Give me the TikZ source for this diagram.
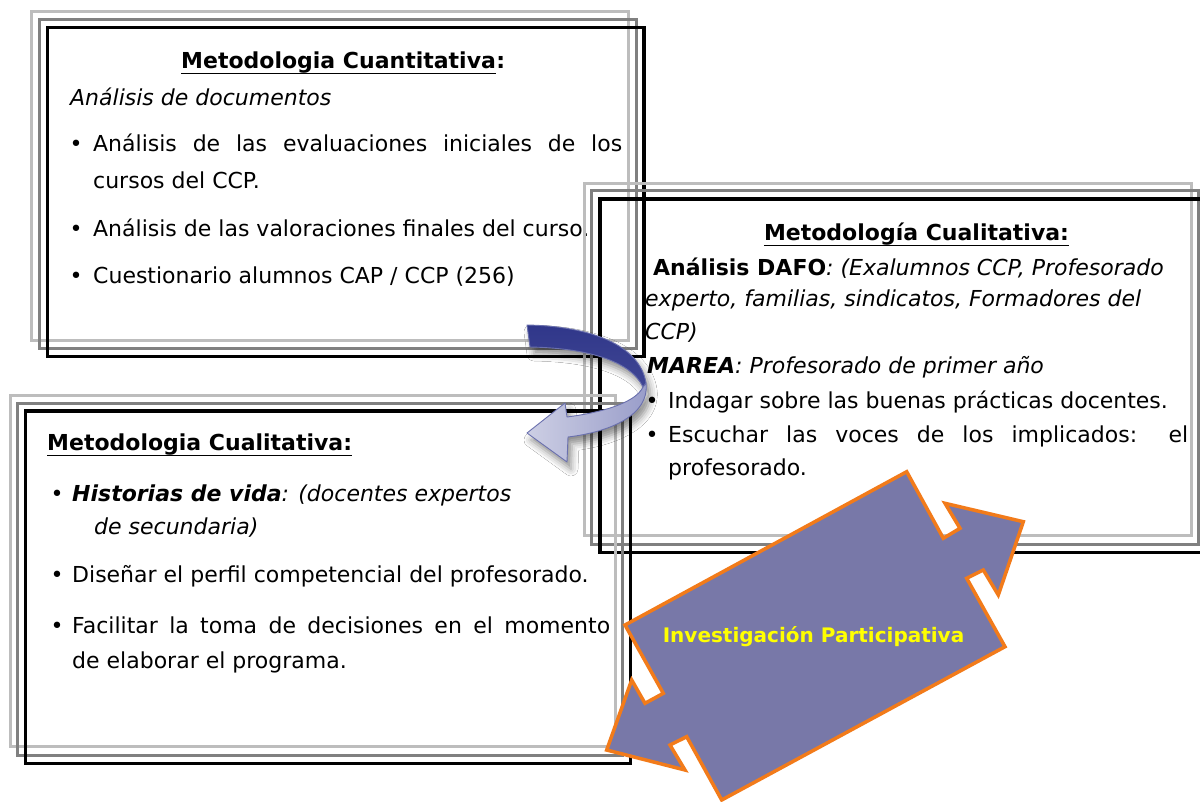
\documentclass[tikz,border=0pt]{standalone}
\usepackage{fontspec}
\setmainfont{DejaVu Sans}
\usetikzlibrary{shadows.blur}
\definecolor{lightgrayline}{HTML}{BDBDBD}
\definecolor{midgrayline}{HTML}{808080}
\definecolor{arrnavy}{HTML}{30378A}
\definecolor{arrlav}{HTML}{CDCFE4}
\definecolor{arrmid}{HTML}{989CC9}
\definecolor{arrborder}{HTML}{6A70AE}
\definecolor{bigfill}{HTML}{7878A8}
\definecolor{bigorange}{HTML}{F27B1A}
\definecolor{txtyellow}{HTML}{FFFF00}
\tikzset{
  lightframe/.style={draw=lightgrayline, line width=3pt},
  midframe/.style={draw=midgrayline, line width=3pt},
  blackframe/.style={draw=black, line width=3.2pt},
  txt/.style={anchor=base west, inner sep=0pt, font=\fontsize{22}{26}\selectfont},
  ctxt/.style={anchor=base, inner sep=0pt, font=\fontsize{22}{26}\selectfont},
  bul/.style={anchor=base, inner sep=0pt, font=\fontsize{22}{26}\selectfont},
  uline/.style={draw=black, line width=1.8pt},
  ribbon/.style={draw=arrborder, line width=0.9pt, line join=round},
  bigarrow/.style={fill=bigfill, draw=bigorange, line width=3.5pt, line join=miter},
}
\begin{document}
\begin{tikzpicture}[x=1pt,y=-1pt]
\useasboundingbox (0,0) rectangle (1200,801);
\fill[white] (0,0) rectangle (1200,801);

% ---------- Box 1: Metodologia Cuantitativa ----------
\draw[lightframe] (31.5,11.5) rectangle (628.5,340.5);
\draw[midframe] (39,19) rectangle (636,348.5);
\draw[blackframe] (47.5,27.5) rectangle (644,356.5);

\node[txt] (t1) at (181,68) {\textbf{Metodologia Cuantitativa}};
\node[txt] (t1c) at (t1.base east) {\textbf{:}};
\draw[uline] ([yshift=-5.5pt]t1.base west) -- ([yshift=-5.5pt]t1.base east);
\node[txt] (a1) at (70,105) {\textit{Análisis de documentos}};
\node[bul] (b11) at (76,151) {\textbullet};
\node[txt] (l11) at (93,151) {\makebox[529pt][s]{Análisis de las evaluaciones iniciales de los}};
\node[txt] (l12) at (93,188) {cursos del CCP.};
\node[bul] (b12) at (76,236) {\textbullet};
\node[txt] (l13) at (93,236) {Análisis de las valoraciones finales del curso.};
\node[bul] (b13) at (76,283) {\textbullet};
\node[txt] (l14) at (93,283) {Cuestionario alumnos CAP / CCP (256)};

% ---------- Box 2: Metodología Cualitativa ----------
\draw[lightframe] (584.5,183.5) rectangle (1191.5,535.5);
\draw[midframe] (591.5,190.5) rectangle (1198,544);
\draw[blackframe] (600,199) rectangle (1206,552.5);

\node[ctxt] (t2) at (916.5,240) {\textbf{Metodología Cualitativa:}};
\draw[uline] ([yshift=-5.5pt]t2.base west) -- ([yshift=-5.5pt]t2.base east);
\node[txt] (l21) at (653,275) {\textbf{Análisis DAFO}\textit{: (Exalumnos CCP, Profesorado}};
\node[txt] (l22) at (645,306) {\textit{experto, familias, sindicatos, Formadores del}};
\node[txt] (l23) at (645,339) {\textit{CCP)}};
\node[txt] (l24) at (647,373) {\textbf{\textit{MAREA}}\textit{: Profesorado de primer año}};
\node[bul] (b21) at (652,408) {\textbullet};
\node[txt] (l25) at (668,408) {Indagar sobre las buenas prácticas docentes.};
\node[bul] (b22) at (652,442) {\textbullet};
\node[txt] (l26) at (668,442) {\makebox[520pt][s]{Escuchar las voces de los implicados: el}};
\node[txt] (l27) at (668,475) {profesorado.};

% ---------- Box 3: Metodologia Cualitativa ----------
\draw[lightframe] (10,395) rectangle (615,746.5);
\draw[midframe] (17.5,403) rectangle (622,755);
\draw[blackframe] (25.5,411) rectangle (630.5,763.5);

\node[txt] (t3) at (47,450) {\textbf{Metodologia Cualitativa:}};
\draw[uline] ([yshift=-5.5pt]t3.base west) -- ([yshift=-5.5pt]t3.base east);
\node[bul] (b31) at (57,501) {\textbullet};
\node[txt] (l31) at (72,501) {\textbf{\textit{Historias de vida}}\textit{: (docentes expertos}};
\node[txt] (l32) at (94,534) {\textit{de secundaria)}};
\node[bul] (b32) at (57,582) {\textbullet};
\node[txt] (l33) at (72,582) {Diseñar el perfil competencial del profesorado.};
\node[bul] (b33) at (57,633) {\textbullet};
\node[txt] (l34) at (72,633) {\makebox[538pt][s]{Facilitar la toma de decisiones en el momento}};
\node[txt] (l35) at (72,668) {de elaborar el programa.};

% ---------- Curved arrow ----------
\path[blur shadow={shadow xshift=4pt, shadow yshift=-7pt, shadow blur radius=7pt, shadow opacity=45}]
  (527,325) .. controls (590,326) and (640,345) .. (646,383)
  .. controls (650,415) and (610,432) .. (568,437)
  -- (567,462) -- (527,433) -- (565,403) -- (567,417)
  .. controls (605,412) and (636,402) .. (643,387)
  .. controls (630,360) and (585,348) .. (530,347) -- cycle;
\path[ribbon, left color=arrlav, right color=arrmid]
  (646,383) .. controls (650,415) and (610,432) .. (568,437)
  -- (567,462) -- (527,433) -- (565,403) -- (567,417)
  .. controls (605,412) and (636,402) .. (643,387) -- cycle;
\path[ribbon, top color=arrnavy, bottom color=arrnavy!85!arrmid]
  (527,325) .. controls (590,326) and (640,345) .. (646,383)
  -- (643,387)
  .. controls (630,360) and (585,348) .. (530,347) -- cycle;

% ---------- Double block arrow ----------
\path[bigarrow]
  (625,625) -- (906.7,471.7) -- (943.3,538.3) -- (960,528.3) -- (945,503.3)
  -- (1023.3,521.7) -- (998.3,595) -- (983.3,570) -- (966.7,578.3)
  -- (1005,646.7) -- (721.7,800) -- (686.7,736.7) -- (670,745) -- (685,770)
  -- (606.7,750) -- (631.7,680) -- (645,703.3) -- (663.3,693.3) -- cycle;
\node[anchor=base, inner sep=0pt, text=txtyellow, font=\fontsize{20}{24}\selectfont\bfseries] (ip) at (813.5,642) {Investigación Participativa};
\end{tikzpicture}
\end{document}
